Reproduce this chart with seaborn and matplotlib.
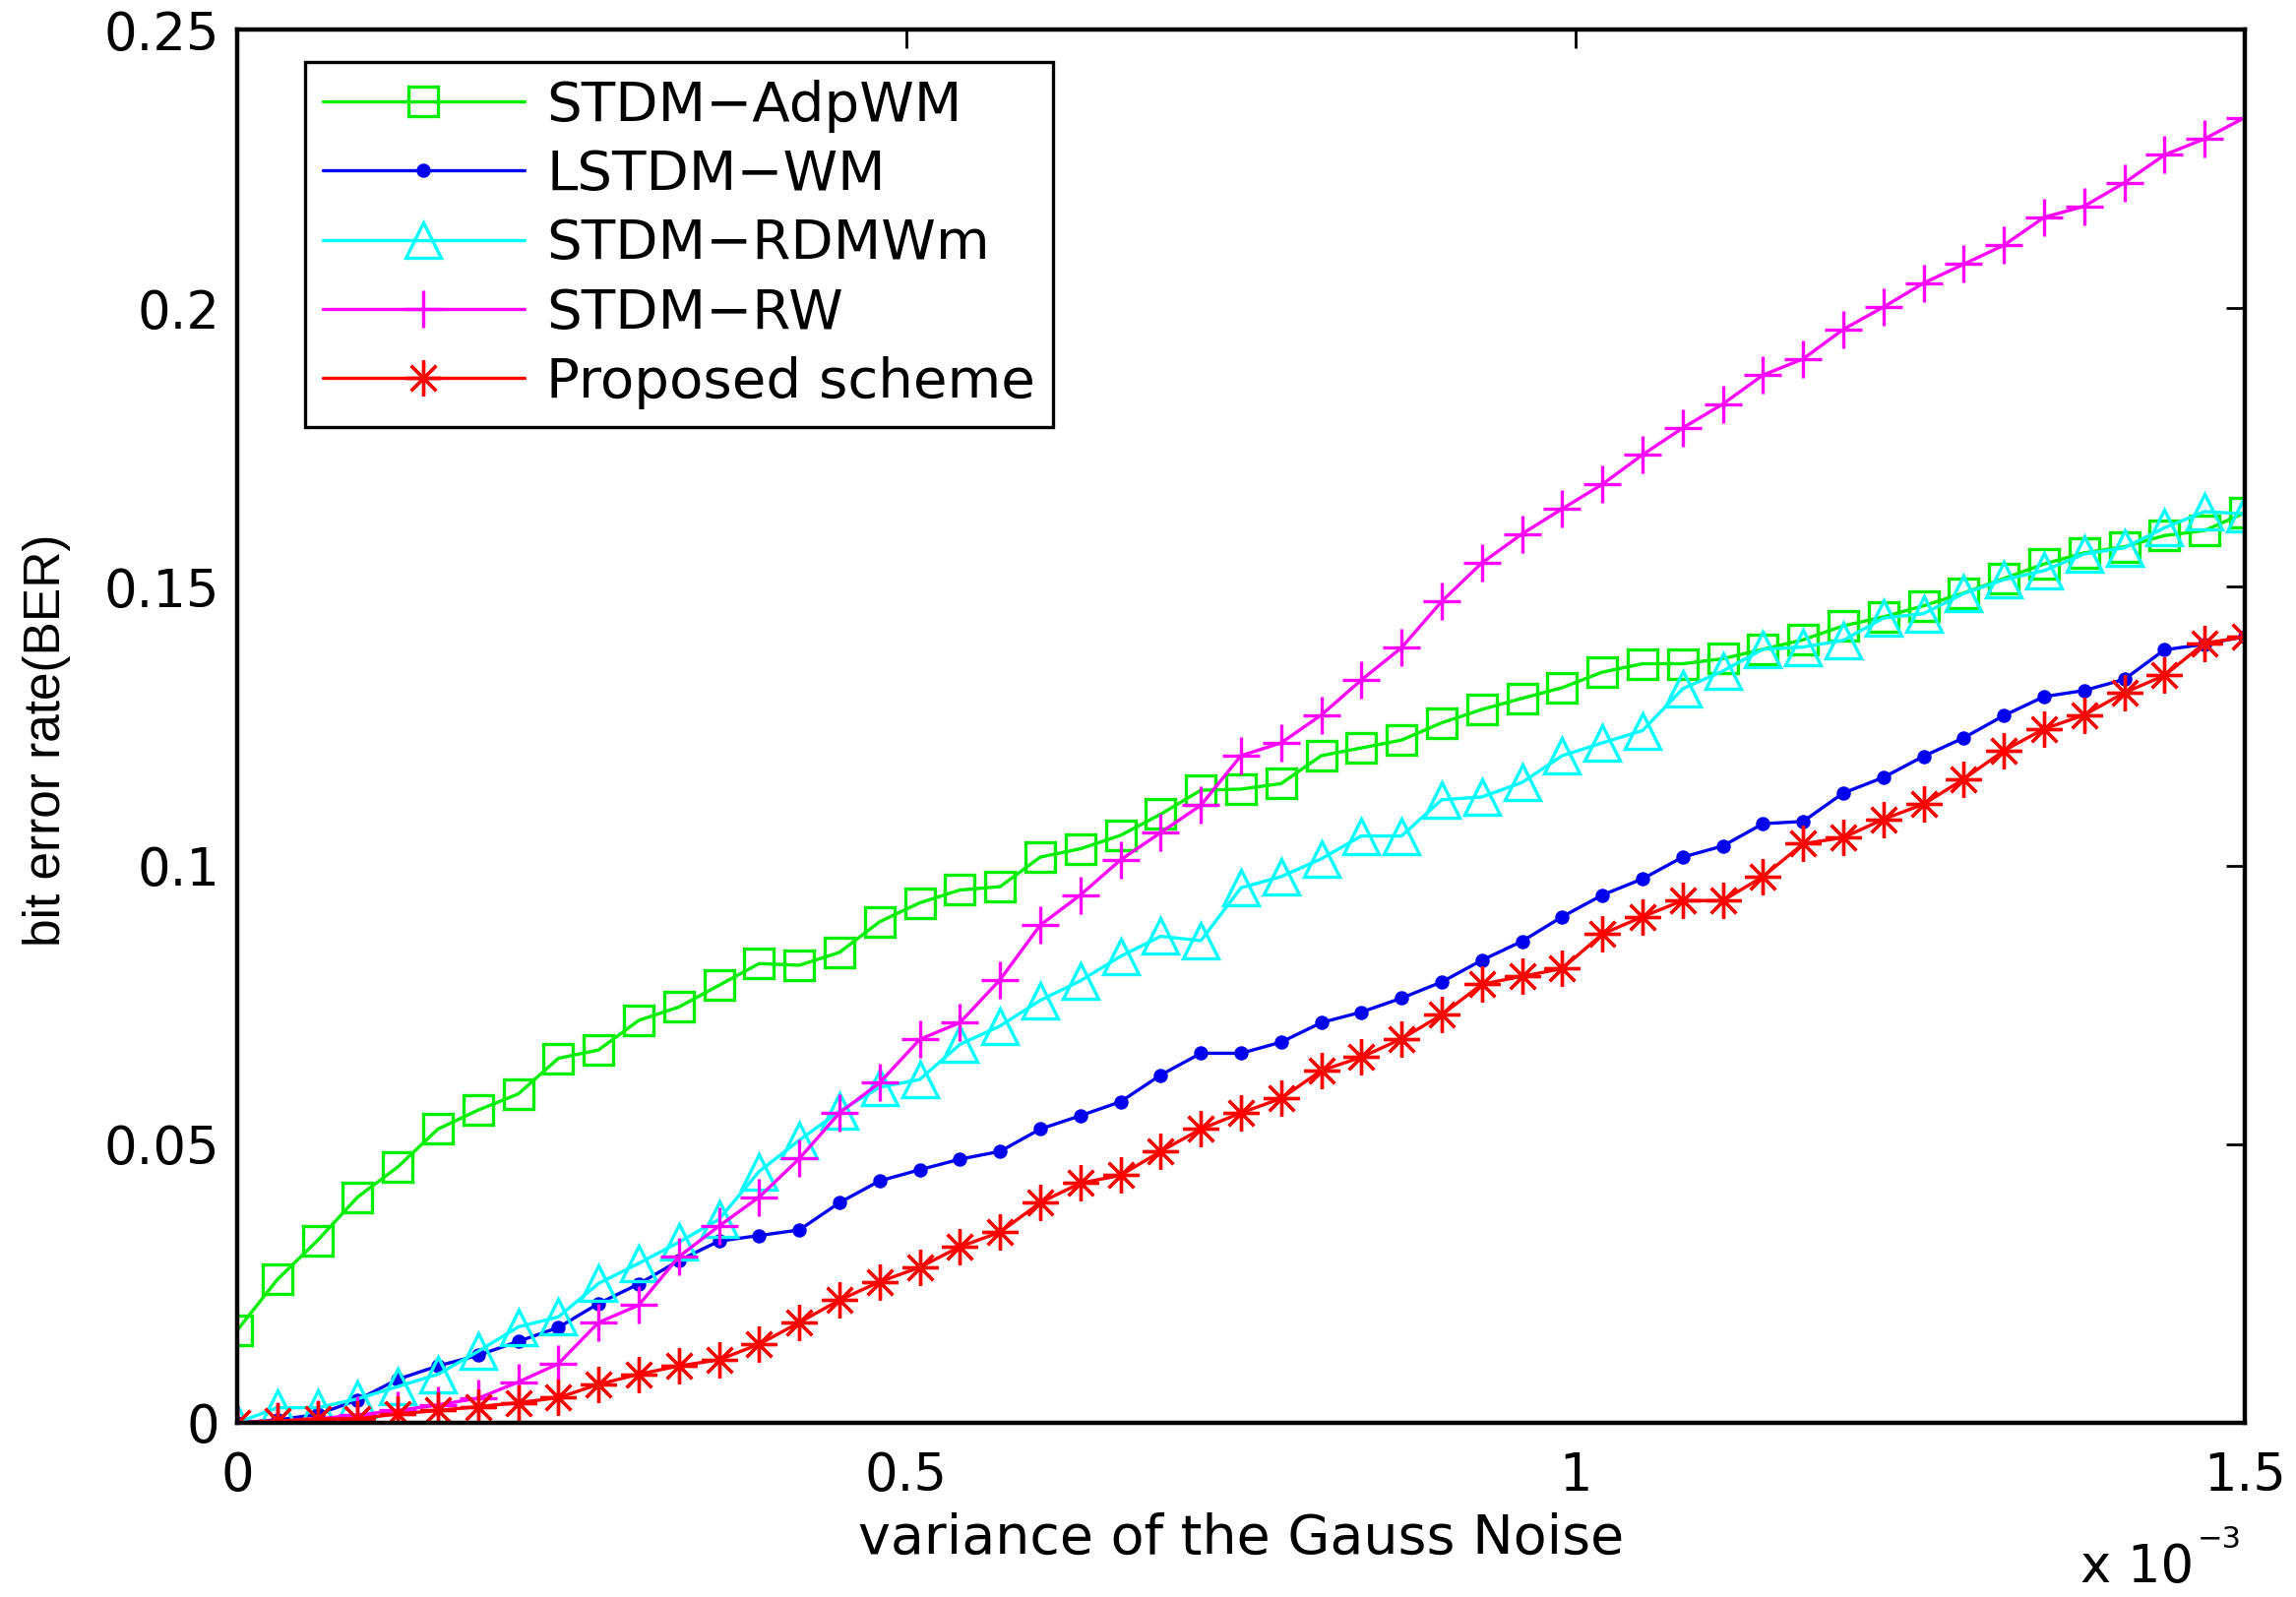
import numpy as np
import pandas as pd
import matplotlib
matplotlib.use("Agg")
import matplotlib.pyplot as plt
import seaborn as sns

# --- datos ---
# varianza del ruido gaussiano, en unidades de 1e-3 (0 a 1.5, paso 0.03)
varianza = np.linspace(0, 1.5, 51)

ber_adpwm = [0.0166, 0.0257, 0.0327, 0.0405, 0.0459, 0.0527, 0.0561, 0.0590, 0.0654, 0.0669,
             0.0722, 0.0746, 0.0785, 0.0824, 0.0821, 0.0844, 0.0899, 0.0933, 0.0956, 0.0962,
             0.1015, 0.1030, 0.1054, 0.1092, 0.1135, 0.1137, 0.1147, 0.1197, 0.1211, 0.1225,
             0.1256, 0.1280, 0.1300, 0.1319, 0.1347, 0.1362, 0.1362, 0.1371, 0.1388, 0.1405,
             0.1430, 0.1446, 0.1466, 0.1489, 0.1515, 0.1541, 0.1561, 0.1572, 0.1592, 0.1601,
             0.1633]

ber_lstdm = [0.0, 0.0005, 0.0015, 0.0041, 0.0078, 0.0102, 0.0121, 0.0146, 0.0171, 0.0214,
             0.0249, 0.0291, 0.0326, 0.0336, 0.0346, 0.0395, 0.0434, 0.0454, 0.0473, 0.0487,
             0.0527, 0.0551, 0.0576, 0.0624, 0.0663, 0.0663, 0.0683, 0.0718, 0.0737, 0.0762,
             0.0791, 0.0830, 0.0864, 0.0908, 0.0947, 0.0976, 0.1015, 0.1035, 0.1075, 0.1079,
             0.1130, 0.1158, 0.1196, 0.1229, 0.1269, 0.1303, 0.1314, 0.1334, 0.1387, 0.1397,
             0.1411]

ber_rdmwm = [0.0, 0.0027, 0.0027, 0.0043, 0.0065, 0.0087, 0.0128, 0.0172, 0.0190, 0.0250,
             0.0286, 0.0324, 0.0365, 0.0451, 0.0507, 0.0559, 0.0602, 0.0616, 0.0679, 0.0712,
             0.0758, 0.0793, 0.0837, 0.0873, 0.0865, 0.0960, 0.0980, 0.1012, 0.1053, 0.1053,
             0.1118, 0.1123, 0.1149, 0.1197, 0.1220, 0.1242, 0.1317, 0.1349, 0.1388, 0.1392,
             0.1404, 0.1444, 0.1452, 0.1488, 0.1513, 0.1529, 0.1559, 0.1570, 0.1606, 0.1635,
             0.1631]

ber_rw = [0.0, 0.0003, 0.0007, 0.0014, 0.0022, 0.0032, 0.0044, 0.0073, 0.0106, 0.0180,
          0.0211, 0.0298, 0.0353, 0.0405, 0.0474, 0.0556, 0.0610, 0.0688, 0.0718, 0.0795,
          0.0893, 0.0947, 0.1010, 0.1059, 0.1108, 0.1197, 0.1220, 0.1270, 0.1333, 0.1391,
          0.1474, 0.1543, 0.1595, 0.1640, 0.1684, 0.1737, 0.1785, 0.1828, 0.1880, 0.1909,
          0.1962, 0.2002, 0.2045, 0.2079, 0.2113, 0.2163, 0.2183, 0.2225, 0.2275, 0.2304,
          0.2342]

ber_propuesto = [0.0, 0.0003, 0.0007, 0.0007, 0.0016, 0.0022, 0.0029, 0.0036, 0.0045, 0.0069,
                 0.0087, 0.0102, 0.0113, 0.0141, 0.0180, 0.0220, 0.0253, 0.0279, 0.0316, 0.0342,
                 0.0395, 0.0430, 0.0444, 0.0487, 0.0527, 0.0556, 0.0582, 0.0632, 0.0656, 0.0689,
                 0.0732, 0.0787, 0.0801, 0.0815, 0.0877, 0.0908, 0.0937, 0.0937, 0.0980, 0.1039,
                 0.1050, 0.1083, 0.1110, 0.1155, 0.1206, 0.1245, 0.1270, 0.1310, 0.1341, 0.1399,
                 0.1410]

nombres = ['STDM\u2212AdpWM', 'LSTDM\u2212WM', 'STDM\u2212RDMWm', 'STDM\u2212RW', 'Proposed scheme']
x_ticks = [0, 0.5, 1, 1.5]
y_ticks = [0, 0.05, 0.1, 0.15, 0.2, 0.25]

# --- estilo ---
sns.set_style("white")
plt.rcParams['font.family'] = ['DejaVu Sans']
plt.rcParams['text.color'] = 'black'
plt.rcParams['axes.labelcolor'] = 'black'

fig = plt.figure(figsize=(23.33, 16.23), dpi=100)
ax = fig.add_axes([0.1033, 0.1091, 0.8744, 0.8724])

estilos = [
    dict(color='#00ee00', marker='s', markersize=22, markerfacecolor='none'),
    dict(color='#0000ee', marker='o', markersize=8, markerfacecolor='#0000ee'),
    dict(color='#00ffff', marker='^', markersize=26, markerfacecolor='none'),
    dict(color='#ff00ff', marker='+', markersize=28),
    dict(color='#ff0000', marker=(8, 2, 0), markersize=26),
]
series = [ber_adpwm, ber_lstdm, ber_rdmwm, ber_rw, ber_propuesto]

for nombre, valores, est in zip(nombres, series, estilos):
    df = pd.DataFrame({'varianza': varianza, 'ber': valores})
    sns.lineplot(data=df, x='varianza', y='ber', ax=ax, label=nombre,
                 linewidth=2.4, markeredgewidth=2.4, markeredgecolor=est['color'], **est)

ax.set_xlim(0, 1.5)
ax.set_ylim(0, 0.25)
ax.set_xticks(x_ticks)
ax.set_xticklabels(['%g' % t for t in x_ticks])
ax.set_yticks(y_ticks)
ax.set_yticklabels(['%g' % t for t in y_ticks])
ax.tick_params(direction='in', length=14, width=2, top=True, right=True,
               labelsize=38, colors='black')
ax.tick_params(axis='x', pad=20)
ax.tick_params(axis='y', pad=13)

for s in ax.spines.values():
    s.set_visible(True)
    s.set_color('black')
    s.set_linewidth(3.2)

ax.set_xlabel('variance of the Gauss Noise', fontsize=40, color='black')
ax.set_ylabel('bit error rate(BER)', fontsize=37, color='black',
              family=['Liberation Sans', 'DejaVu Sans'])
ax.xaxis.set_label_coords(0.5, -0.064)
ax.yaxis.set_label_coords(-0.083, 0.49)

# factor de escala del eje x
fig.text(2114 / 2333, 0.0092, 'x 10', fontsize=38, ha='left', va='baseline', color='black')
fig.text(2233 / 2333, 0.0308, '\u22123', fontsize=22, ha='left', va='baseline', color='black')

leg = ax.legend(loc='upper left', bbox_to_anchor=(0.0336, 0.977), borderaxespad=0,
                fontsize=40.5, numpoints=1, handlelength=3.66, handletextpad=0.39,
                labelspacing=0.29, borderpad=0.32, fancybox=False, framealpha=1,
                edgecolor='black')
leg.get_frame().set_linewidth(2.4)
for t in leg.get_texts():
    t.set_color('black')

fig.savefig('out.png', dpi=100, facecolor='white')
